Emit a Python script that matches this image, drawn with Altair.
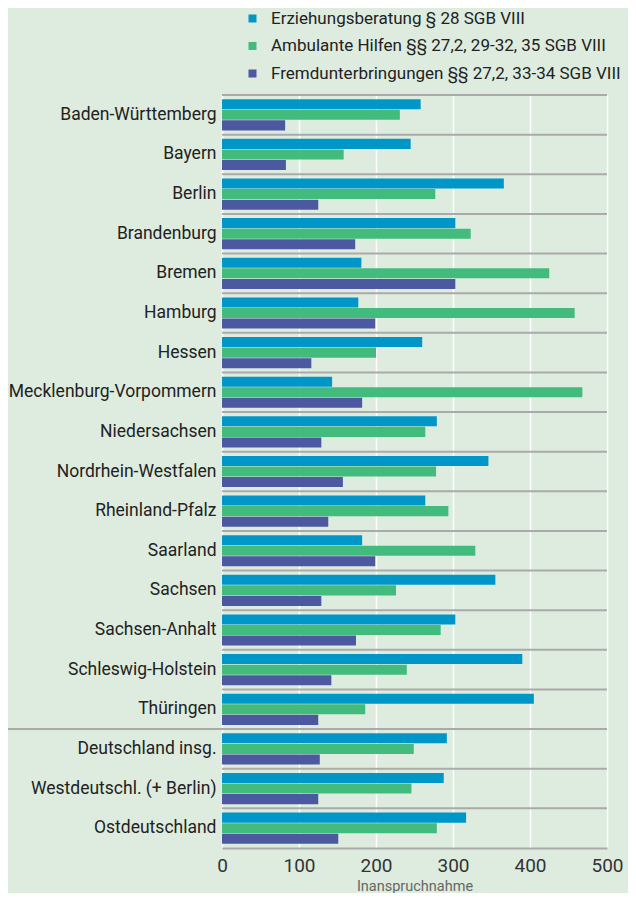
import altair as alt
import pandas as pd

categories = ["Baden-Württemberg", "Bayern", "Berlin", "Brandenburg", "Bremen", "Hamburg",
              "Hessen", "Mecklenburg-Vorpommern", "Niedersachsen", "Nordrhein-Westfalen",
              "Rheinland-Pfalz", "Saarland", "Sachsen", "Sachsen-Anhalt", "Schleswig-Holstein",
              "Thüringen", "Deutschland insg.", "Westdeutschl. (+ Berlin)", "Ostdeutschland"]
series = ["Erziehungsberatung § 28 SGB VIII",
          "Ambulante Hilfen §§ 27,2, 29-32, 35 SGB VIII",
          "Fremdunterbringungen §§ 27,2, 33-34 SGB VIII"]
erziehung = [258, 245, 366, 303, 181, 177, 260, 143, 279, 346, 264, 182, 355, 303, 390, 405, 292, 288, 317]
ambulant = [231, 158, 277, 323, 425, 458, 200, 468, 264, 278, 294, 329, 226, 284, 240, 186, 249, 246, 279]
fremd = [82, 83, 125, 173, 303, 199, 116, 182, 129, 157, 138, 199, 129, 174, 142, 125, 127, 125, 151]
colors = ["#0096c8", "#43bb7c", "#4c59a0"]
x_ticks = [0, 100, 200, 300, 400, 500]

rows = []
for vals, s in zip([erziehung, ambulant, fremd], series):
    for c, v in zip(categories, vals):
        rows.append({"Land": c, "Serie": s, "Wert": v})
df = pd.DataFrame(rows)
sep_df = pd.DataFrame({"Land": categories})
div_df = pd.DataFrame({"Land": ["Deutschland insg."]})

FONT = "Roboto"

y_enc = alt.Y("Land:N", sort=categories,
              scale=alt.Scale(paddingInner=0, paddingOuter=0),
              axis=alt.Axis(title=None, domain=False, ticks=False, grid=False,
                            labelFontSize=17.5, labelColor="#222", labelPadding=6,
                            labelFont=FONT, labelLimit=260))

bars = alt.Chart(df).mark_bar().encode(
    x=alt.X("Wert:Q", scale=alt.Scale(domain=[0, 500], nice=False),
            axis=alt.Axis(values=x_ticks, title="Inanspruchnahme", grid=True,
                          gridColor="white", gridWidth=1.5, ticks=False,
                          domain=True, domainColor="#aaaaaa", domainWidth=2,
                          labelFontSize=19, labelColor="#333", labelFont=FONT,
                          labelFlush=False, labelPadding=8, titleFontSize=14.5,
                          titleColor="#666", titleFont=FONT, titleFontWeight="normal",
                          titlePadding=4)),
    y=y_enc,
    yOffset=alt.YOffset("Serie:N", sort=series,
                        scale=alt.Scale(paddingInner=0.05, paddingOuter=0.4)),
    color=alt.Color("Serie:N", sort=series,
                    scale=alt.Scale(domain=series, range=colors),
                    legend=alt.Legend(title=None, orient="none", legendX=22, legendY=-85,
                                      symbolType="square", symbolSize=64,
                                      symbolStrokeWidth=0, labelFontSize=17,
                                      labelFont=FONT, labelColor="#222", labelLimit=420,
                                      rowPadding=9.5, padding=0, labelOffset=10)),
)

seps = alt.Chart(sep_df).mark_rule(color="#aaaaaa", strokeWidth=2).encode(
    y=alt.Y("Land:N", sort=categories, bandPosition=0),
    x=alt.value(0), x2=alt.value(385),
)

divider = alt.Chart(div_df).mark_rule(color="#aaaaaa", strokeWidth=2).encode(
    y=alt.Y("Land:N", sort=categories, bandPosition=0),
    x=alt.value(-215), x2=alt.value(385),
)

chart = alt.layer(bars, seps, divider).properties(
    width=385, height=753,
    background="#ddecde",
    padding={"left": 214, "top": 87, "right": 21, "bottom": 45},
    autosize=alt.AutoSizeParams(type="none"),
).configure_view(stroke=None)

chart.save("out.html", embed_options={"renderer": "svg", "actions": False})
